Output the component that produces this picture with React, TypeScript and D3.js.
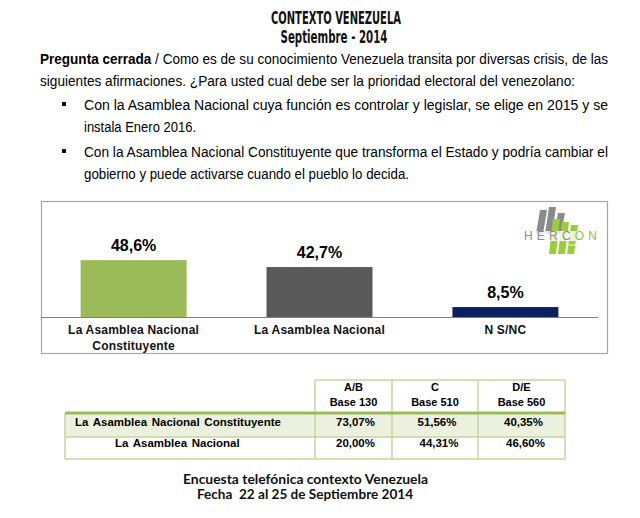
import React from "react";
import * as d3 from "d3";

// ---------- data ----------
const categoryLines: string[][] = [["La Asamblea Nacional", "Constituyente"], ["La Asamblea Nacional"], ["N S/NC"]];
const categories = ["La Asamblea Nacional Constituyente", "La Asamblea Nacional", "NS/NC"];
const values = [48.6, 42.7, 8.5];
const valueLabels = ["48,6%", "42,7%", "8,5%"];
const barColors = ["#9bbb59", "#595959", "#0b215f"];

const tableColumns: string[][] = [["A/B", "Base 130"], ["C", "Base 510"], ["D/E", "Base 560"]];
const tableRowLabels = ["La Asamblea Nacional Constituyente", "La Asamblea Nacional"];
const tableConstituyente = ["73,07%", "51,56%", "40,35%"];
const tableNacional = ["20,00%", "44,31%", "46,60%"];

const titleLines = ["CONTEXTO VENEZUELA", "Septiembre - 2014"];
const footerLines = ["Encuesta telefónica contexto Venezuela", "Fecha  22 al 25 de Septiembre 2014"];

// ---------- layout ----------
const W = 640, H = 518;
const box = { x: 41, y: 201, w: 566, h: 152 };
const baseY = 317;
const x = d3.scaleBand<string>().domain(categories).range([41, 598]).paddingInner(0.43).paddingOuter(0.213);
const y = d3.scaleLinear().domain([0, 100]).range([baseY, 200]);

const tCols = [65, 315, 392, 478, 565];
const tY = { top: 380, head: 413, r1: 437, r2: 459 };
const borderC = "#c3d69b";

const bodyFont = "'Liberation Sans', Arial, sans-serif";

function Logo() {
  const gray = [
    [536, 210, 234],
    [545, 207, 234],
    [554, 213, 234],
  ];
  const green = [
    [549, 219, 254],
    [558, 222, 254],
    [567, 225, 254],
  ];
  const para = (x0: number, t: number, b: number, w: number, sk: number) =>
    `${x0 + sk},${t} ${x0 + sk + w},${t} ${x0 + w},${b} ${x0},${b}`;
  return (
    <g>
      {gray.map((g, i) => (
        <polygon key={"g" + i} points={para(g[0], g[1], g[2], 7, 4)} fill="#8a8a8a" />
      ))}
      {green.map((g, i) => (
        <polygon key={"n" + i} points={para(g[0], g[1], g[2], 7, 4)} fill="#9acd3c" />
      ))}
      <rect x={522} y={231} width={78} height={10} fill="#ffffff" opacity={0.8} />
      <text x={524} y={240} fontFamily={bodyFont} fontSize={12} letterSpacing={4.2} fill="#8c8c8c">
        HERC<tspan fill="#8fc33a">ON</tspan>
      </text>
      <text x={566} y={246} fontFamily={bodyFont} fontSize={3.5} fill="#ffffff">consultores asociados</text>
    </g>
  );
}

export default function App() {
  const paraLines = [
    { x: 40, y: 64, len: 568, bullet: false },
    { x: 40, y: 86, len: 535, bullet: false },
    { x: 84, y: 110, len: 524, bullet: true },
    { x: 84, y: 132, len: 112, bullet: false },
    { x: 84, y: 157, len: 524, bullet: true },
    { x: 84, y: 179, len: 325, bullet: false },
  ];
  const paraTexts = [
    null,
    "siguientes afirmaciones. ¿Para usted cual debe ser la prioridad electoral del venezolano:",
    "Con la Asamblea Nacional cuya función es controlar y legislar, se elige en 2015 y se",
    "instala Enero 2016.",
    "Con la Asamblea Nacional Constituyente que transforma el Estado y podría cambiar el",
    "gobierno y puede activarse cuando el pueblo lo decida.",
  ];
  const colCenters = tCols.slice(1, 4).map((c, i) => (c + tCols[i + 2]) / 2);

  return (
    <svg width={W} height={H} style={{ position: "absolute", left: 0, top: 0, background: "#fff" }}>
      <rect x={0} y={0} width={W} height={H} fill="#ffffff" />
      {/* title */}
      <text x={336} y={24} textAnchor="middle" fontFamily="'DejaVu Sans Condensed', 'DejaVu Sans', sans-serif"
        fontWeight="bold" fontSize={17} textLength={130} lengthAdjust="spacingAndGlyphs" fill="#111">
        {titleLines[0]}
      </text>
      <text x={334} y={43} textAnchor="middle" fontFamily="'DejaVu Sans Condensed', 'DejaVu Sans', sans-serif"
        fontWeight="bold" fontSize={17} textLength={107} lengthAdjust="spacingAndGlyphs" fill="#111">
        {titleLines[1]}
      </text>

      {/* paragraph */}
      {paraLines.map((l, i) => (
        <g key={"p" + i}>
          {l.bullet && <rect x={62} y={l.y - 8} width={4} height={4} fill="#000" />}
          <text x={l.x} y={l.y} fontFamily={bodyFont} fontSize={14} fill="#000"
            textLength={l.len} lengthAdjust="spacingAndGlyphs">
            {i === 0 ? (
              <>
                <tspan fontWeight="bold">Pregunta cerrada</tspan>
                <tspan> / Como es de su conocimiento Venezuela transita por diversas crisis,  de las</tspan>
              </>
            ) : (
              paraTexts[i]
            )}
          </text>
        </g>
      ))}

      {/* chart box */}
      <rect x={box.x + 0.5} y={box.y + 0.5} width={box.w} height={box.h} fill="#fff" stroke="#a6a6a6" strokeWidth={1.2} />
      <Logo />
      {categories.map((c, i) => (
        <g key={c}>
          <rect x={x(c)} y={y(values[i])} width={x.bandwidth()} height={baseY - y(values[i])} fill={barColors[i]} />
          <text x={(x(c) as number) + x.bandwidth() / 2} y={y(values[i]) - 9} textAnchor="middle"
            fontFamily={bodyFont} fontWeight="bold" fontSize={16} fill="#000">
            {valueLabels[i]}
          </text>
          {categoryLines[i].map((t, j) => (
            <text key={j} x={(x(c) as number) + x.bandwidth() / 2} y={334 + j * 16} textAnchor="middle"
              fontFamily={bodyFont} fontWeight="bold" fontSize={12} fill="#111" letterSpacing={0.2}>
              {t}
            </text>
          ))}
        </g>
      ))}
      <line x1={box.x} x2={598} y1={baseY + 0.5} y2={baseY + 0.5} stroke="#7f7f7f" strokeWidth={1} />

      {/* table */}
      <rect x={tCols[0]} y={tY.head} width={tCols[4] - tCols[0]} height={tY.r1 - tY.head} fill="#ebf1de" />
      <line x1={tCols[1]} x2={tCols[4]} y1={tY.top} y2={tY.top} stroke={borderC} strokeWidth={1.5} />
      {tCols.map((cx, i) => (
        <line key={"v" + i} x1={cx} x2={cx} y1={i === 0 ? tY.head : tY.top} y2={tY.r2} stroke={borderC} strokeWidth={1.5} />
      ))}
      <line x1={tCols[0]} x2={tCols[4]} y1={tY.r1} y2={tY.r1} stroke={borderC} strokeWidth={1.5} />
      <line x1={tCols[0]} x2={tCols[4]} y1={tY.r2} y2={tY.r2} stroke={borderC} strokeWidth={1.5} />
      <line x1={tCols[0]} x2={tCols[4]} y1={tY.head} y2={tY.head} stroke="#9bbb59" strokeWidth={3} />
      {tableColumns.map((lines, i) =>
        lines.map((t, j) => (
          <text key={"h" + i + j} x={colCenters[i]} y={391 + j * 15} textAnchor="middle"
            fontFamily={bodyFont} fontWeight="bold" fontSize={11} fill="#000">
            {t}
          </text>
        ))
      )}
      <text x={75} y={426} fontFamily={bodyFont} fontWeight="bold" fontSize={11.5} fill="#000" wordSpacing={1.5}>
        {tableRowLabels[0]}
      </text>
      <text x={115} y={447} fontFamily={bodyFont} fontWeight="bold" fontSize={11.5} fill="#000" wordSpacing={1.5}>
        {tableRowLabels[1]}
      </text>
      {tableConstituyente.map((v, i) => (
        <text key={"a" + i} x={colCenters[i] + 2} y={426} textAnchor="middle" fontFamily={bodyFont}
          fontWeight="bold" fontSize={11.5} fill="#000">{v}</text>
      ))}
      {tableNacional.map((v, i) => (
        <text key={"b" + i} x={colCenters[i] + (i === 0 ? 2 : 4)} y={447} textAnchor="middle" fontFamily={bodyFont}
          fontWeight="bold" fontSize={11.5} fill="#000">{v}</text>
      ))}

      {/* footer */}
      <text x={305.5} y={484} textAnchor="middle" fontFamily="Lato, 'Open Sans', sans-serif" fontWeight="bold"
        fontSize={13} textLength={245} lengthAdjust="spacingAndGlyphs" fill="#111">
        {footerLines[0]}
      </text>
      <text x={305} y={499} textAnchor="middle" fontFamily="Lato, 'Open Sans', sans-serif" fontWeight="bold"
        fontSize={13} textLength={216} lengthAdjust="spacingAndGlyphs" fill="#111" style={{ whiteSpace: "pre" }}>
        {footerLines[1]}
      </text>
    </svg>
  );
}
